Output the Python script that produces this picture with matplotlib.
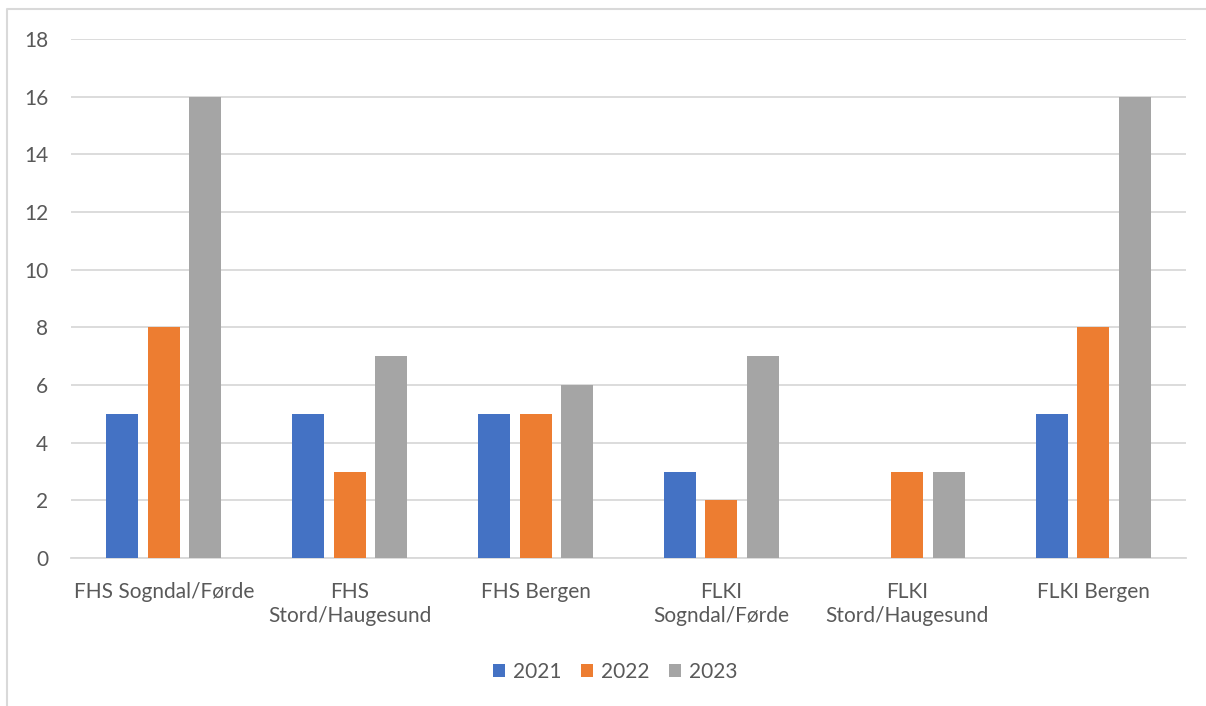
import numpy as np
import matplotlib.pyplot as plt
from matplotlib.lines import Line2D

categories = ["FHS Sogndal/Førde", "FHS\nStord/Haugesund", "FHS Bergen",
              "FLKI\nSogndal/Førde", "FLKI\nStord/Haugesund", "FLKI Bergen"]
years = ["2021", "2022", "2023"]
v2021 = [5, 5, 5, 3, 0, 5]
v2022 = [8, 3, 5, 2, 3, 8]
v2023 = [16, 7, 6, 7, 3, 16]
colors = ["#4472C4", "#ED7D31", "#A5A5A5"]

plt.rcParams['font.family'] = ['Lato', 'DejaVu Sans']
text_color = "#595959"
grid_color = "#D9D9D9"

fig = plt.figure(figsize=(12.06, 7.06), dpi=100)
ax = fig.add_axes([71/1206, 1-558/706, (1186-71)/1206, (558-39)/706])

x = np.arange(len(categories))
width = 0.172
step = 0.223
for i, (vals, yr) in enumerate(zip([v2021, v2022, v2023], years)):
    ax.bar(x + (i-1)*step, vals, width, color=colors[i], label=yr, zorder=3)

ax.set_xlim(-0.5, len(categories)-0.5)
ax.set_ylim(0, 18)
ax.set_yticks(range(0, 19, 2))
ax.yaxis.grid(True, color=grid_color, linewidth=1.3, zorder=0)
for s in ["top", "right", "left"]:
    ax.spines[s].set_visible(False)
ax.spines["bottom"].set_color(grid_color)
ax.spines["bottom"].set_linewidth(1.3)
ax.tick_params(axis="both", length=0, colors=text_color, labelsize=15)
ax.tick_params(axis="y", pad=16.5)
ax.tick_params(axis="x", pad=17)
ax.set_xticks(x)
ax.set_xticklabels(categories, linespacing=1.3)

leg = ax.legend(loc="center", bbox_to_anchor=(615/1206, 1-672/706),
                bbox_transform=fig.transFigure, ncol=3, frameon=False,
                fontsize=15, handlelength=0.6, handleheight=0.6,
                handletextpad=0.35, columnspacing=0.95)
for t in leg.get_texts():
    t.set_color(text_color)

# chart border (top and left visible, as in the source)
bx = 7/1206
by = 1-9/706
fig.add_artist(Line2D([bx, bx, 1], [0, by, by], transform=fig.transFigure,
                      color=grid_color, linewidth=1.5))

fig.savefig("out.png", dpi=100)
